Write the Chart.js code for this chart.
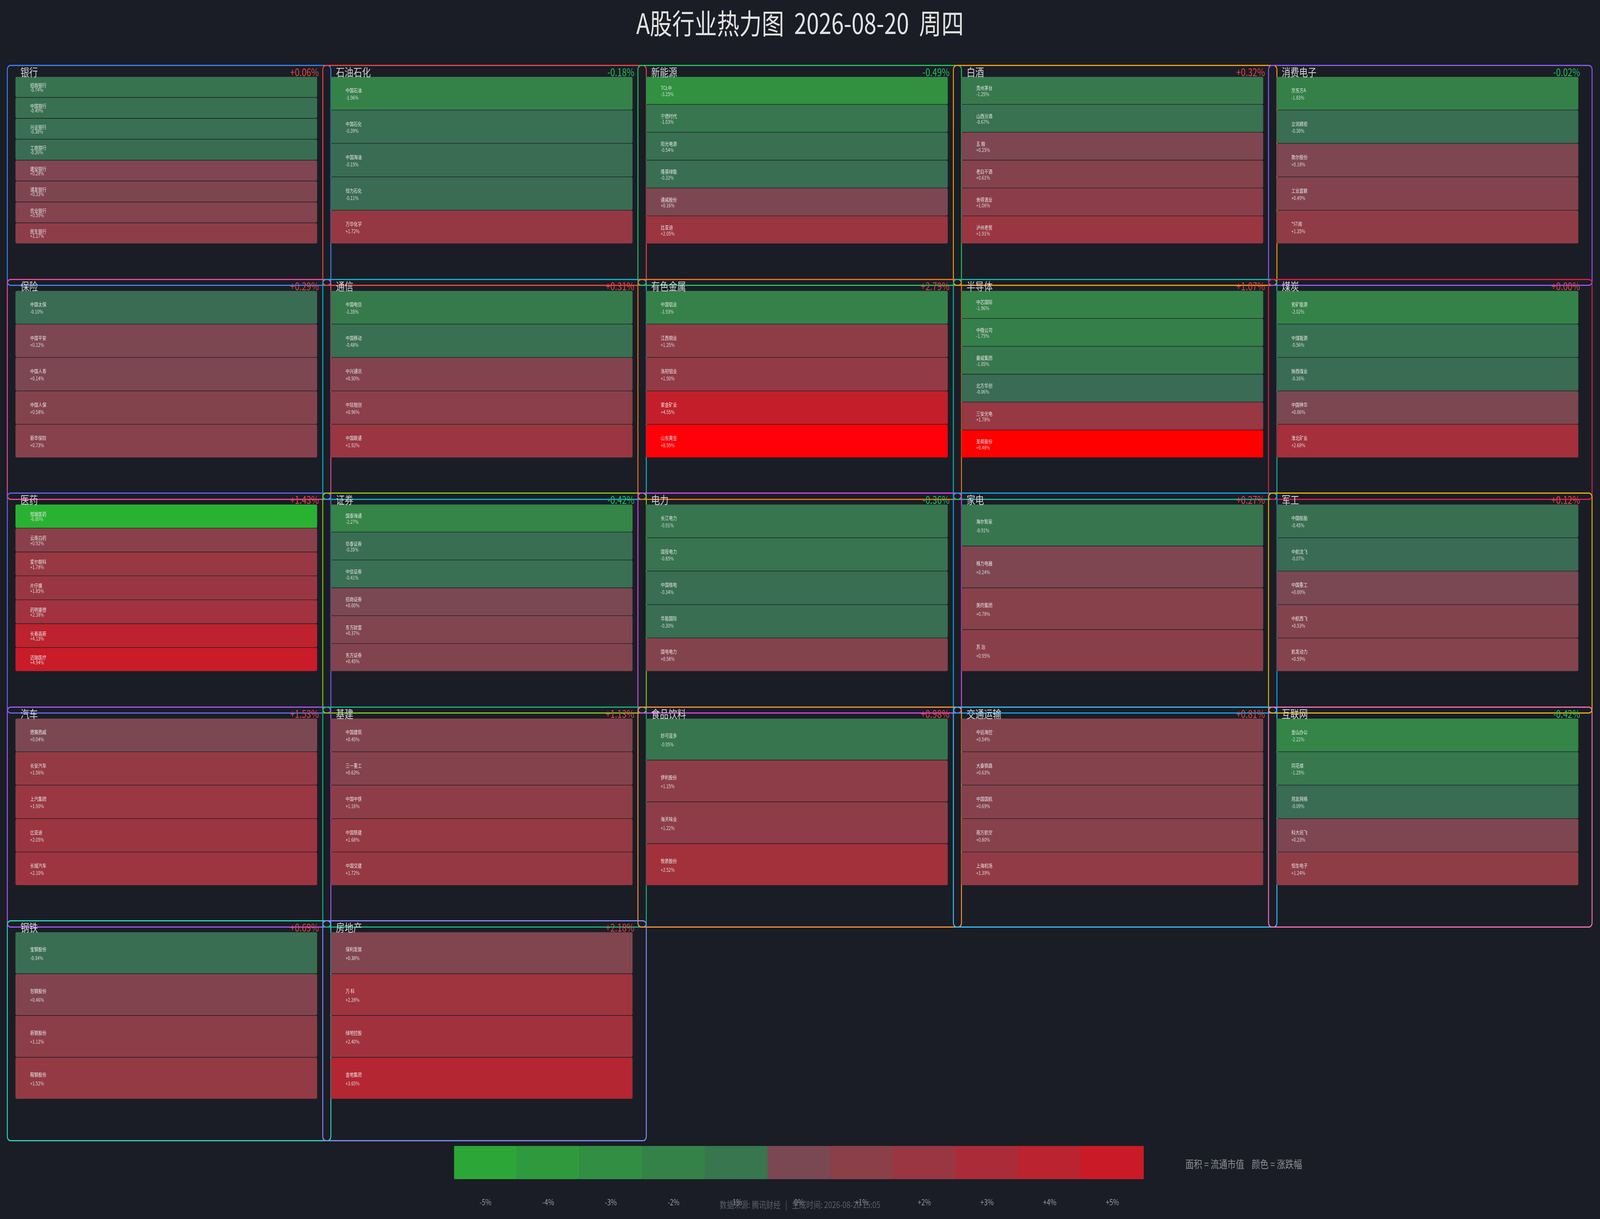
<!DOCTYPE html>
<html lang="zh-CN">
<head>
<meta charset="utf-8">
<title>A股行业热力图</title>
<script src="https://cdn.jsdelivr.net/npm/chart.js@4.4.0/dist/chart.umd.min.js"></script>
<style>
  html, body { margin: 0; padding: 0; background: #1a1d25; overflow: hidden; }
  #wrap { position: relative; overflow: hidden; background: #1a1d25; }
  #page { position: absolute; left: 0; top: 0; width: 5148px; height: 3121px; overflow: hidden; background: #1a1d25;
          font-family: 'Noto Sans CJK SC', 'Noto Sans', sans-serif; transform-origin: 0 0; }
  .title { position: absolute; left: 0; width: 5148px; top: 14px; line-height: 84px; text-align: center;
           font-size: 72px; color: #e2e2e2; white-space: pre; }
  .box { position: absolute; border: 3px solid; border-radius: 12px; box-sizing: border-box; z-index: 1; }
  .cells { position: absolute; z-index: 2; }
  .sec-name, .sec-chg { position: absolute; z-index: 3; font-size: 28px; line-height: 40px; height: 40px; white-space: nowrap; }
  .sec-name { color: #d6d6d6; }
  .sec-chg { text-align: right; font-size: 27px; }
  .note { position: absolute; color: #8a8d94; font-size: 27px; line-height: 40px; white-space: pre; }
  .footer { position: absolute; left: 0; width: 5148px; text-align: center; color: #5c6069; font-size: 23px;
            line-height: 36px; white-space: pre; z-index: 4; }
</style>
</head>
<body>
<div id="wrap">
  <div id="page">
    <div class="title">A股行业热力图  2026-08-20  周四</div>
  </div>
</div>
<script>
// 行业名称与行业涨跌幅（%）
const sectorNames = ['银行', '石油石化', '新能源', '白酒', '消费电子',
                     '保险', '通信', '有色金属', '半导体', '煤炭',
                     '医药', '证券', '电力', '家电', '军工',
                     '汽车', '基建', '食品饮料', '交通运输', '互联网',
                     '钢铁', '房地产'];
const sectorChanges = [0.06, -0.18, -0.49, 0.32, -0.02,
                       0.29, 0.31, 2.79, 1.07, 0.00,
                       1.43, -0.42, -0.36, 0.27, 0.12,
                       1.53, 1.13, 0.98, 0.81, -0.42,
                       0.69, 2.18];

// 个股名称与涨跌幅（%）
const yinhangNames = ['招商银行', '中国银行', '兴业银行', '工商银行', '建设银行', '浦发银行', '农业银行', '民生银行'];
const yinhangChg = [-0.74, -0.49, -0.38, -0.26, 0.28, 0.33, 0.59, 1.17];
const shiyouNames = ['中国石油', '中国石化', '中国海油', '恒力石化', '万华化学'];
const shiyouChg = [-1.96, -0.39, -0.15, -0.11, 1.72];
const xinnengNames = ['TCL中', '宁德时代', '阳光电源', '隆基绿能', '通威股份', '比亚迪'];
const xinnengChg = [-3.25, -1.03, -0.54, -0.32, 0.16, 2.05];
const baijiuNames = ['贵州茅台', '山西汾酒', '五 粮', '老白干酒', '舍得酒业', '泸州老窖'];
const baijiuChg = [-1.25, -0.67, 0.25, 0.61, 1.06, 1.91];
const xiaofeiNames = ['京东方A', '立讯精密', '歌尔股份', '工业富联', '*ST闻'];
const xiaofeiChg = [-1.83, -0.30, 0.18, 0.49, 1.35];

const baoxianNames = ['中国太保', '中国平安', '中国人寿', '中国人保', '新华保险'];
const baoxianChg = [-0.10, 0.12, 0.14, 0.58, 0.73];
const tongxinNames = ['中国电信', '中国移动', '中兴通讯', '中际旭创', '中国联通'];
const tongxinChg = [-1.35, -0.48, 0.50, 0.96, 1.92];
const youseNames = ['中国铝业', '江西铜业', '洛阳钼业', '紫金矿业', '山东黄金'];
const youseChg = [-1.93, 1.25, 1.50, 4.55, 8.59];
const bandaotiNames = ['中芯国际', '中微公司', '豪威集团', '北方华创', '三安光电', '圣邦股份'];
const bandaotiChg = [-1.96, -1.75, -1.05, -0.06, 1.78, 9.48];
const meitanNames = ['兖矿能源', '中煤能源', '陕西煤业', '中国神华', '淮北矿业'];
const meitanChg = [-2.02, -0.56, -0.16, 0.06, 2.68];

const yiyaoNames = ['恒瑞医药', '云南白药', '爱尔眼科', '片仔癀', '药明康德', '长春高新', '迈瑞医疗'];
const yiyaoChg = [-6.00, 0.92, 1.78, 1.85, 2.38, 4.13, 4.94];
const zhengquanNames = ['国泰海通', '华泰证券', '中信证券', '招商证券', '东方财富', '东方证券'];
const zhengquanChg = [-2.27, -0.35, -0.41, 0.00, 0.37, 0.45];
const dianliNames = ['长江电力', '国投电力', '中国核电', '华能国际', '国电电力'];
const dianliChg = [-0.91, -0.85, -0.34, -0.30, 0.58];
const jiadianNames = ['海尔智家', '格力电器', '美的集团', '苏 泊'];
const jiadianChg = [-0.91, 0.24, 0.78, 0.95];
const jungongNames = ['中国船舶', '中航沈飞', '中国重工', '中航西飞', '航发动力'];
const jungongChg = [-0.45, -0.07, 0.00, 0.53, 0.59];

const qicheNames = ['德赛西威', '长安汽车', '上汽集团', '比亚迪', '长城汽车'];
const qicheChg = [0.04, 1.56, 1.90, 2.05, 2.10];
const jijianNames = ['中国建筑', '三一重工', '中国中铁', '中国铁建', '中国交建'];
const jijianChg = [0.45, 0.63, 1.16, 1.68, 1.72];
const shipinNames = ['妙可蓝多', '伊利股份', '海天味业', '牧原股份'];
const shipinChg = [-0.95, 1.15, 1.22, 2.52];
const jiaotongNames = ['中远海控', '大秦铁路', '中国国航', '南方航空', '上海机场'];
const jiaotongChg = [0.54, 0.63, 0.69, 0.80, 1.39];
const hulianNames = ['金山办公', '同花顺', '用友网络', '科大讯飞', '恒生电子'];
const hulianChg = [-2.22, -1.25, -0.09, 0.23, 1.24];

const gangtieNames = ['宝钢股份', '包钢股份', '新钢股份', '鞍钢股份'];
const gangtieChg = [-0.34, 0.46, 1.12, 1.52];
const dichanNames = ['保利发展', '万 科', '绿地控股', '金地集团'];
const dichanChg = [0.38, 2.28, 2.40, 3.65];

// 图例刻度
const legendSteps = [-5, -4, -3, -2, -1, 0, 1, 2, 3, 4, 5];
const legendLabels = ['-5%', '-4%', '-3%', '-2%', '-1%', '0%', '+1%', '+2%', '+3%', '+4%', '+5%'];

const stockNames = [yinhangNames, shiyouNames, xinnengNames, baijiuNames, xiaofeiNames,
                    baoxianNames, tongxinNames, youseNames, bandaotiNames, meitanNames,
                    yiyaoNames, zhengquanNames, dianliNames, jiadianNames, jungongNames,
                    qicheNames, jijianNames, shipinNames, jiaotongNames, hulianNames,
                    gangtieNames, dichanNames];
const stockChanges = [yinhangChg, shiyouChg, xinnengChg, baijiuChg, xiaofeiChg,
                      baoxianChg, tongxinChg, youseChg, bandaotiChg, meitanChg,
                      yiyaoChg, zhengquanChg, dianliChg, jiadianChg, jungongChg,
                      qicheChg, jijianChg, shipinChg, jiaotongChg, hulianChg,
                      gangtieChg, dichanChg];

// 样式
const boxColors = ['#3b82f6', '#ef4444', '#22c55e', '#f59e0b', '#8b5cf6',
                   '#ec4899', '#06b6d4', '#f97316', '#14b8a6', '#e11d48',
                   '#6366f1', '#84cc16', '#d946ef', '#0ea5e9', '#eab308',
                   '#a855f7', '#10b981', '#fb923c', '#38bdf8', '#f472b6',
                   '#2dd4bf', '#818cf8'];
const FONT = "'Noto Sans CJK SC', 'Noto Sans', sans-serif";
const COLS = 5, PITCH_X = 1014.5, PITCH_Y = 547.5;
const CELL_X0 = 49, CELL_Y0 = 196, CELL_W = 972, CELL_H = 428;

const wrap = document.getElementById('wrap');
const page = document.getElementById('page');
// 窗口宽度被限制时，把 5148x3121 的版式铺满整个窗口
const scaleX = window.innerWidth / 5148;
const scaleY = window.innerHeight / 3121;
page.style.transform = `scale(${scaleX}, ${scaleY})`;
wrap.style.width = window.innerWidth + 'px';
wrap.style.height = window.innerHeight + 'px';

function fmtPct(v) {
  return (v >= 0 ? '+' : '') + v.toFixed(2) + '%';
}

function cellColor(v) {
  const t = Math.abs(v) / 5;
  const s = v >= 0 ? [122, 72, 82] : [58, 106, 84];
  const e = v >= 0 ? [203, 26, 39] : [44, 166, 55];
  const c = s.map((a, i) => Math.max(0, Math.min(255, Math.round(a + (e[i] - a) * t))));
  return `rgb(${c[0]},${c[1]},${c[2]})`;
}

// 单元格内文字
const cellLabels = {
  id: 'cellLabels',
  afterDatasetsDraw(chart) {
    const ctx = chart.ctx;
    const ds = chart.data.datasets[0];
    const meta = chart.getDatasetMeta(0);
    ctx.save();
    ctx.textBaseline = 'middle';
    ctx.textAlign = 'left';
    ctx.font = `13px ${FONT}`;
    meta.data.forEach((bar, i) => {
      const top = bar.y - bar.height / 2;
      const left = Math.min(bar.x, bar.base);
      ctx.fillStyle = '#ebebeb';
      ctx.fillText(chart.data.labels[i], left + 48, top + bar.height * 0.41);
      ctx.fillStyle = '#dedede';
      ctx.fillText(fmtPct(ds.changes[i]), left + 48, top + bar.height * 0.63);
    });
    ctx.restore();
  }
};

function addEl(cls, css, text) {
  const el = document.createElement('div');
  el.className = cls;
  Object.assign(el.style, css);
  if (text !== undefined) el.textContent = text;
  page.appendChild(el);
  return el;
}

function addCanvas(left, top, w, h) {
  const holder = addEl('cells', { left: left + 'px', top: top + 'px', width: w + 'px', height: h + 'px' });
  const canvas = document.createElement('canvas');
  canvas.width = w;
  canvas.height = h;
  canvas.style.width = w + 'px';
  canvas.style.height = h + 'px';
  holder.appendChild(canvas);
  return canvas;
}

sectorNames.forEach((name, k) => {
  const col = k % COLS, row = Math.floor(k / COLS);
  const cx = Math.round(CELL_X0 + col * PITCH_X);
  const cy = Math.round(CELL_Y0 + row * PITCH_Y);

  addEl('box', { left: (cx - 27) + 'px', top: (cy - 30) + 'px', width: '1044px', height: '566px',
                 borderColor: boxColors[k] });

  const canvas = addCanvas(cx, cy, CELL_W, CELL_H);
  const names = stockNames[k];
  const chg = stockChanges[k];
  new Chart(canvas, {
    type: 'bar',
    data: {
      labels: names,
      datasets: [{
        data: names.map(() => [0, 1]),
        changes: chg,
        backgroundColor: chg.map(cellColor),
        borderColor: 'rgba(26,29,37,0.55)',
        borderWidth: 1,
        borderRadius: 5,
        borderSkipped: false,
        barPercentage: 1,
        categoryPercentage: 1
      }]
    },
    options: {
      indexAxis: 'y',
      responsive: false,
      animation: false,
      layout: { padding: 0 },
      plugins: { legend: { display: false }, tooltip: { enabled: false } },
      scales: {
        x: { display: false, min: 0, max: 1 },
        y: { display: false }
      }
    },
    plugins: [cellLabels]
  });

  addEl('sec-name', { left: (cx + 17) + 'px', top: (cy - 32) + 'px' }, name);
  const v = sectorChanges[k];
  addEl('sec-chg', { left: cx + 'px', top: (cy - 32) + 'px', width: (CELL_W + 5) + 'px',
                     color: v >= 0 ? '#ef4444' : '#22c55e' }, fmtPct(v));
});

// 图例
const legendCanvas = addCanvas(1461, 2934, 2219, 170);
new Chart(legendCanvas, {
  type: 'bar',
  data: {
    labels: legendLabels,
    datasets: [{
      data: legendSteps.map(() => [0, 1]),
      backgroundColor: legendSteps.map(cellColor),
      borderWidth: 0,
      borderRadius: 3,
      borderSkipped: false,
      barPercentage: 1,
      categoryPercentage: 1
    }]
  },
  options: {
    responsive: false,
    animation: false,
    layout: { padding: 0 },
    plugins: { legend: { display: false }, tooltip: { enabled: false } },
    scales: {
      x: {
        grid: { display: false, drawTicks: false },
        border: { display: false },
        ticks: { color: '#9a9ca3', font: { family: FONT, size: 21 }, padding: 46 }
      },
      y: { display: false, min: 0, max: 1 }
    }
  }
});

addEl('note', { left: '3814px', top: '2960px' }, '面积 = 流通市值    颜色 = 涨跌幅');
addEl('footer', { top: '3065px' }, '数据来源: 腾讯财经   |   生成时间: 2026-08-20 15:05');
</script>
</body>
</html>
